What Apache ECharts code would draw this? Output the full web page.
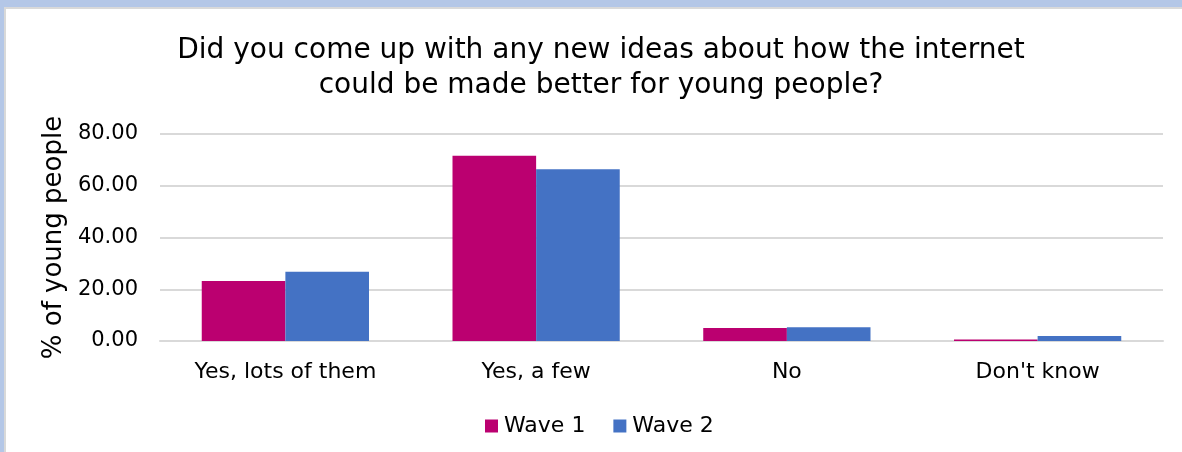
<!DOCTYPE html>
<html>
<head>
<meta charset="utf-8">
<script src="https://cdn.jsdelivr.net/npm/echarts@6/dist/echarts.min.js"></script>
<style>
  html, body { margin: 0; padding: 0; background: #b4c7e7; width: 1182px; height: 452px; overflow: hidden; }
  #frame { position: absolute; left: 4px; top: 7px; width: 1180px; height: 450px; background: #fff; border-top: 2px solid #d9d9d9; border-left: 2px solid #d9d9d9; }
  #chart { position: absolute; left: -6px; top: -9px; width: 1182px; height: 452px; }
</style>
</head>
<body>
<div id="frame"><div id="chart"></div></div>
<script>
// Survey answers, percent of young people per wave
const categories = ['Yes, lots of them', 'Yes, a few', 'No', "Don't know"];
const wave1 = [23.2, 71.6, 5.0, 0.6];
const wave2 = [26.8, 66.4, 5.3, 1.9];
const seriesNames = ['Wave 1', 'Wave 2'];
const titleLines = ['Did you come up with any new ideas about how the internet', 'could be made better for young people?'];
const yAxisName = '% of young people';

const FONT = '"DejaVu Sans", sans-serif';
const chart = echarts.init(document.getElementById('chart'), null, { renderer: 'canvas' });

chart.setOption({
  backgroundColor: 'transparent',
  animation: false,
  textStyle: { fontFamily: FONT, color: '#000' },
  title: {
    text: titleLines.join('\n'),
    left: 596,
    textAlign: 'center',
    top: 28,
    textStyle: { fontFamily: FONT, fontSize: 28, fontWeight: 'normal', color: '#000', lineHeight: 35 }
  },
  legend: {
    data: seriesNames,
    top: 410,
    left: 480,
    icon: 'rect',
    itemWidth: 13,
    itemHeight: 13,
    itemGap: 28,
    itemStyle: { borderWidth: 0 },
    textStyle: { fontFamily: FONT, fontSize: 22, color: '#000', padding: [0, 0, 0, 1] }
  },
  grid: { left: 160, right: 19, top: 134, bottom: 111, containLabel: false },
  xAxis: {
    type: 'category',
    data: categories,
    axisTick: { show: false },
    axisLine: { lineStyle: { color: '#d9d9d9', width: 2 } },
    axisLabel: { fontFamily: FONT, fontSize: 22, color: '#000', margin: 20 }
  },
  yAxis: {
    type: 'value',
    min: 0,
    max: 80,
    interval: 20,
    name: yAxisName,
    nameLocation: 'middle',
    nameGap: 77,
    nameTextStyle: { fontFamily: FONT, fontSize: 26, color: '#000' },
    axisLine: { show: false },
    axisTick: { show: false },
    splitLine: { lineStyle: { color: '#d9d9d9', width: 2 } },
    axisLabel: { fontFamily: FONT, fontSize: 21, color: '#000', margin: 22, formatter: v => v.toFixed(2) }
  },
  series: [
    { name: seriesNames[0], type: 'bar', data: wave1, barGap: '0%', barCategoryGap: '33.3%',
      itemStyle: { color: '#bb0070' } },
    { name: seriesNames[1], type: 'bar', data: wave2, barGap: '0%', barCategoryGap: '33.3%',
      itemStyle: { color: '#4472c4' } }
  ]
});
</script>
</body>
</html>
